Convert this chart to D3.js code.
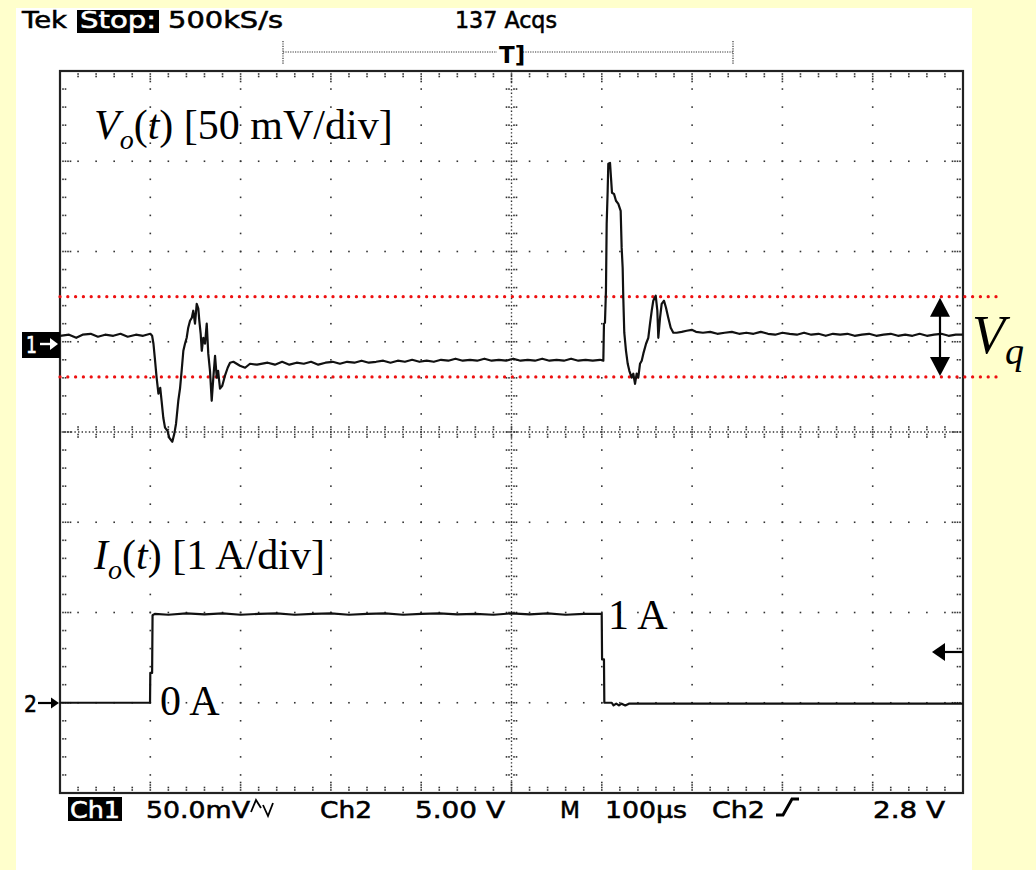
<!DOCTYPE html>
<html><head><meta charset="utf-8">
<script src="https://cdn.jsdelivr.net/npm/d3@7"></script>
<style>html,body{margin:0;padding:0;background:#ffffcc;}svg{display:block}</style>
</head><body>
<svg id="c" width="1036" height="870"></svg>
<script>
// ---------------- DATA ----------------
// Ch1: output voltage Vo(t), time in µs (100 µs/div, trigger at 0), value in mV (50 mV/div)
const ch1Time = [-500,-490,-482,-475,-466,-458,-450,-441,-433,-425,-416,-408,-400,-398,
 -396.5,-395,-393,-391,-389,-387.5,-385.6,-383.7,-381,-379,-375.6,-373.4,-371.5,-369,-367,-365.3,-363.4,-361.6,-359.7,-358,-356,-354,-352.4,-350.5,-348.6,-346.8,-345.7,-344.2,-343,-341.3,-339.4,-337.5,-335.8,-333.9,-332,-330.2,-328.3,-326.4,-324.9,-322.8,-320.3,-317.3,-314.3,-311.7,-308,-300.7,-295,-289.6,-281.8,
 -270,-262,-254,-246,-238,-230,-222,-214,-206,-198,-190,-182,-174,-166,-158,-150,-142,-134,-126,-118,-110,-102,-94,-86,-78,-70,-62,-54,-46,-38,-30,-22,-14,-6,2,10,18,26,34,42,50,58,66,74,82,90,98,101.7,
 102.4,103.5,104.6,105.4,106.5,107.2,109.1,110.2,111.3,113.5,115.7,118.3,120.9,122,123.1,123.8,124.9,126.8,128.7,130.5,133.1,134.9,136.8,138.6,140.4,142.3,144.2,146,149,151.5,153.4,155.3,157,159.7,161.5,162.6,164.5,166.3,168.9,171.1,173.6,176.3,179.2,182.9,188.5,194,199.6,204.3,
 212,220,228,236,244,252,260,268,276,284,292,300,308,316,324,332,340,348,356,364,372,380,388,396,404,412,420,428,436,444,452,460,468,476,484,492,500];
const ch1Millivolts = [3.3,3.9,2.2,3.9,4.4,2.8,3.9,3.3,4.4,2.8,3.9,3.3,4.4,3.3,
 -1.1,-8.9,-19.9,-28.8,-25.5,-32.7,-42.1,-47.6,-49.3,-53.2,-55.4,-50.9,-45.4,-32.7,-25.5,-16.1,-5.0,-1.1,2.2,7.8,11.6,13.3,17.2,10.0,21.0,18.3,11.6,4.4,-5.0,2.2,-1.1,10.0,-6.6,-16.1,-32.7,-19.9,-7.8,-19.9,-16.1,-26.0,-24.4,-18.8,-14.4,-11.6,-11.1,-13.3,-14.4,-12.2,-12.7,
 -11.6,-12.7,-11.1,-12.7,-11.6,-12.2,-11.1,-12.7,-11.6,-11.1,-12.2,-11.1,-11.6,-10.5,-11.6,-11.1,-10.5,-11.6,-10.5,-11.1,-10.0,-11.1,-10.5,-11.1,-10.0,-10.5,-9.4,-10.5,-10.0,-10.5,-9.4,-10.5,-10.0,-10.5,-9.4,-10.5,-10.0,-10.5,-9.4,-10.5,-10.0,-10.5,-9.4,-10.5,-10.0,-10.5,-10.0,-10.5,
 10.0,10.5,28.2,65.3,83.6,98.6,99.1,90.8,82.5,81.9,78.1,76.4,72.5,52.0,41.0,24.4,5.0,-5.0,-12.2,-16.1,-19.9,-17.7,-23.3,-17.7,-19.9,-12.2,-10.5,-6.6,-1.1,2.2,10.0,17.2,22.7,25.5,17.2,2.2,13.3,21.0,22.7,18.8,13.3,7.8,5.0,5.0,5.5,6.1,6.6,5.5,
 5.0,5.5,4.4,5.0,5.5,4.4,5.0,4.4,5.5,4.4,3.9,5.0,4.4,3.9,5.0,3.9,4.4,3.3,4.4,3.9,4.4,3.3,3.9,4.4,3.3,3.9,4.4,3.3,3.9,3.3,4.4,3.3,3.9,4.4,3.3,3.9,3.9];
// Ch2: output current Io(t), time in µs, value in A (1 A/div)
const ch2Time = [-500,-400.3,-400,-398,-397.5,-395,-380,-360,-340,-320,-300,-280,-260,-240,-220,-200,-180,-160,-140,-120,-100,-80,-60,-40,-20,0,20,40,60,80,99.9,100.3,102.4,102.8,111,113,116,119,122,126,130,500];
const ch2Amps = [0,0,0.33,0.33,0.97,0.985,0.975,0.99,0.98,0.99,0.975,0.985,0.99,0.975,0.985,0.99,0.975,0.985,0.99,0.975,0.985,0.99,0.98,0.985,0.975,0.99,0.98,0.99,0.975,0.985,0.985,0.48,0.48,0,0,-0.03,-0.01,-0.03,-0.01,-0.03,-0.01,-0.01];
// Quantisation band limits on Ch1 (mV)
const vqLevels = [25, -19.5];
// Graticule: time ticks (µs) and vertical divisions
const timeMajorTicks = d3.range(-500, 501, 100);
const timeMinorTicks = d3.range(-500, 501, 20);
const divMajorTicks = d3.range(-4, 4.001, 1);
const divMinorTicks = d3.range(-20, 21, 1).map(v => v / 5);
// Text
const headerLabels = ["Tek", "Stop:", "500kS/s", "137 Acqs"];
const footerLabels = ["Ch1", "50.0mV", "Ch2", "5.00 V", "M", "100µs", "Ch2", "2.8 V"];
const channelMarks = ["1", "2"];
const levelLabels = ["1 A", "0 A"];

// ---------------- LAYOUT ----------------
const svg = d3.select("#c");
svg.append("rect").attr("x", 16).attr("y", 8).attr("width", 956).attr("height", 862).attr("fill", "#fff");

const L = 60, R = 963, T = 71, B = 793;
const x = d3.scaleLinear().domain([-500, 500]).range([L, R]);
const yDiv = d3.scaleLinear().domain([-4, 4]).range([B, T]);
const y1 = d3.scaleLinear().domain([-250, 150]).range([B, T]);
const y2 = d3.scaleLinear().domain([-1, 7]).range([B, T]);

const gridG = svg.append("g");
const dotCol = "#333";
function dot(cx, cy) {
  gridG.append("rect").attr("x", cx - 0.8).attr("y", cy - 0.8)
    .attr("width", 1.6).attr("height", 1.6).attr("fill", dotCol);
}
const ends = v => Math.abs(Math.abs(v) - 4) < 1e-6;
timeMajorTicks.filter(t => Math.abs(t) !== 500 && t !== 0).forEach(t => {
  divMinorTicks.filter(v => !ends(v)).forEach(v => dot(x(t), yDiv(v)));
});
divMajorTicks.filter(v => !ends(v) && v !== 0).forEach(v => {
  timeMinorTicks.filter(t => Math.abs(t) !== 500).forEach(t => dot(x(t), yDiv(v)));
});
gridG.append("line").attr("x1", x(0)).attr("x2", x(0)).attr("y1", T).attr("y2", B)
  .attr("stroke", dotCol).attr("stroke-width", 1.4).attr("stroke-dasharray", "1.4,2.2");
gridG.append("line").attr("x1", L).attr("x2", R).attr("y1", yDiv(0)).attr("y2", yDiv(0))
  .attr("stroke", dotCol).attr("stroke-width", 1.4).attr("stroke-dasharray", "1.4,2.2");
divMinorTicks.filter(v => !ends(v)).forEach(v => {
  [-5, -2.5, 2.5, 5].forEach(o => dot(x(0) + o, yDiv(v)));
});
timeMinorTicks.filter(t => Math.abs(t) !== 500).forEach(t => {
  [-5, -2.5, 2.5, 5].forEach(o => dot(x(t), yDiv(0) + o));
});
timeMinorTicks.filter(t => Math.abs(t) !== 500).forEach(t => {
  const major = timeMajorTicks.includes(t);
  const offs = major ? [3, 5.5, 8, 10.5] : [3, 5.5];
  offs.forEach(o => { dot(x(t), T + o); dot(x(t), B - o); });
});
divMinorTicks.filter(v => !ends(v)).forEach(v => {
  const major = Number.isInteger(v);
  const offs = major ? [3, 5.5, 8, 10.5] : [3, 5.5];
  offs.forEach(o => { dot(L + o, yDiv(v)); dot(R - o, yDiv(v)); });
});
svg.append("rect").attr("x", L).attr("y", T).attr("width", R - L).attr("height", B - T)
  .attr("fill", "none").attr("stroke", "#222").attr("stroke-width", 2.2);

// top record-length bracket
const brG = svg.append("g").attr("stroke", "#333").attr("stroke-width", 1.2).attr("stroke-dasharray", "1.2,1.2");
brG.append("line").attr("x1", 283).attr("x2", 733).attr("y1", 52).attr("y2", 52);
brG.append("line").attr("x1", 283).attr("x2", 283).attr("y1", 41).attr("y2", 64);
brG.append("line").attr("x1", 733).attr("x2", 733).attr("y1", 41).attr("y2", 64);
svg.append("rect").attr("x", 497).attr("y", 42).attr("width", 24).attr("height", 22).attr("fill", "#fff");
svg.append("text").attr("x", 499).attr("y", 63).attr("font-family", "DejaVu Sans").attr("font-weight", "bold")
  .attr("font-size", 23).text("T]");

// red Vq band lines
vqLevels.forEach(v => {
  svg.append("line").attr("x1", L).attr("x2", 1003).attr("y1", y1(v)).attr("y2", y1(v))
    .attr("stroke", "#ee1111").attr("stroke-width", 3.3).attr("stroke-linecap", "round")
    .attr("stroke-dasharray", "0 7.8");
});

// traces
const line1 = d3.line().x((d, i) => x(ch1Time[i])).y((d, i) => y1(ch1Millivolts[i]));
svg.append("path").attr("d", line1(ch1Time)).attr("fill", "none").attr("stroke", "#111")
  .attr("stroke-width", 2.2).attr("stroke-linejoin", "round");
const line2 = d3.line().x((d, i) => x(ch2Time[i])).y((d, i) => y2(ch2Amps[i]));
svg.append("path").attr("d", line2(ch2Time)).attr("fill", "none").attr("stroke", "#111")
  .attr("stroke-width", 2.2).attr("stroke-linejoin", "round");

// double arrow for Vq
const ax = 940, at = y1(vqLevels[0]), ab = y1(vqLevels[1]);
svg.append("line").attr("x1", ax).attr("x2", ax).attr("y1", at + 15).attr("y2", ab - 15)
  .attr("stroke", "#000").attr("stroke-width", 2.2);
svg.append("path").attr("d", `M${ax},${at + 1}L${ax - 10},${at + 20}L${ax + 10},${at + 20}Z`).attr("fill", "#000");
svg.append("path").attr("d", `M${ax},${ab - 1}L${ax - 10},${ab - 20}L${ax + 10},${ab - 20}Z`).attr("fill", "#000");

// trigger level arrow on right edge
svg.append("path").attr("d", `M932,652L945,643L945,661Z`).attr("fill", "#000");
svg.append("line").attr("x1", 944).attr("x2", R).attr("y1", 652).attr("y2", 652).attr("stroke", "#000").attr("stroke-width", 2.2);

// ---------------- SCOPE TEXT ----------------
const mono = "DejaVu Sans";
function scopeText(str, x0, yb, w, fill) {
  const c = fill || "#000";
  return svg.append("text").attr("x", x0).attr("y", yb).attr("font-family", mono).attr("font-size", 23)
    .attr("fill", c).attr("stroke", c).attr("stroke-width", 0.55)
    .attr("textLength", w).attr("lengthAdjust", "spacingAndGlyphs").text(str);
}
scopeText(headerLabels[0], 22, 28, 45);
svg.append("rect").attr("x", 77).attr("y", 10).attr("width", 82).attr("height", 23).attr("fill", "#000");
scopeText(headerLabels[1], 80, 28, 76, "#fff");
scopeText(headerLabels[2], 168, 28, 115);
scopeText(headerLabels[3], 455, 28, 102);
// channel markers
svg.append("rect").attr("x", 22).attr("y", 332).attr("width", 38).attr("height", 26).attr("fill", "#000");
scopeText(channelMarks[0], 26, 353, 11, "#fff");
svg.append("line").attr("x1", 40).attr("x2", 52).attr("y1", 344).attr("y2", 344).attr("stroke", "#fff").attr("stroke-width", 2.4);
svg.append("path").attr("d", "M58,344L50,338L50,350Z").attr("fill", "#fff");
scopeText(channelMarks[1], 24, 712, 13);
svg.append("line").attr("x1", 38).attr("x2", 52).attr("y1", 703).attr("y2", 703).attr("stroke", "#000").attr("stroke-width", 2.2);
svg.append("path").attr("d", "M59,703L51,697.5L51,708.5Z").attr("fill", "#000");
// footer
svg.append("rect").attr("x", 68).attr("y", 797).attr("width", 54).attr("height", 24).attr("fill", "#000");
scopeText(footerLabels[0], 70, 818, 50, "#fff");
scopeText(footerLabels[1], 146, 818, 104);
svg.append("path").attr("d", "M251,812 L256,800 L261,808 M263,805 L268,816 L273,803")
  .attr("fill", "none").attr("stroke", "#000").attr("stroke-width", 1.8);
scopeText(footerLabels[2], 320, 818, 52);
scopeText(footerLabels[3], 415, 818, 90);
scopeText(footerLabels[4], 560, 818, 20);
scopeText(footerLabels[5], 605, 818, 82);
scopeText(footerLabels[6], 712, 818, 53);
svg.append("path").attr("d", "M776,815 L783,815 L792,799 L799,799")
  .attr("fill", "none").attr("stroke", "#000").attr("stroke-width", 3);
scopeText(footerLabels[7], 873, 818, 72);

// ---------------- ANNOTATIONS (serif) ----------------
const serif = "Liberation Serif";
function sigLabel(sym, rest, x0, yb) {
  const t = svg.append("text").attr("x", x0).attr("y", yb).attr("font-family", serif).attr("font-size", 42).attr("fill", "#000");
  t.append("tspan").attr("font-style", "italic").text(sym);
  t.append("tspan").attr("font-style", "italic").attr("font-size", 28).attr("dy", 10).text("o");
  t.append("tspan").attr("dy", -10).text("(");
  t.append("tspan").attr("font-style", "italic").text("t");
  t.append("tspan").text(rest);
}
sigLabel("V", ") [50 mV/div]", 94, 139);
sigLabel("I", ") [1 A/div]", 94, 569);
svg.append("text").attr("x", 608).attr("y", 629).attr("font-family", serif).attr("font-size", 42).text(levelLabels[0]);
svg.append("text").attr("x", 160).attr("y", 715).attr("font-family", serif).attr("font-size", 42).text(levelLabels[1]);
const vq = svg.append("text").attr("x", 972).attr("y", 353).attr("font-family", serif).attr("font-size", 54).attr("font-style", "italic");
vq.append("tspan").text("V");
vq.append("tspan").attr("font-size", 38).attr("dy", 11).text("q");
</script>
</body></html>
